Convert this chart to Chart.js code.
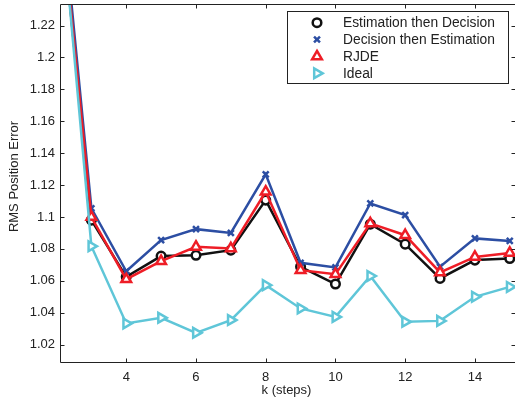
<!DOCTYPE html>
<html>
<head>
<meta charset="utf-8">
<script src="https://cdn.jsdelivr.net/npm/chart.js@4/dist/chart.umd.min.js"></script>
<style>
  html, body { margin: 0; padding: 0; background: #fff; }
  #wrap { width: 515px; height: 406px; position: relative; }
</style>
</head>
<body>
<div id="wrap"><canvas id="c" width="515" height="406"></canvas></div>
<script>
// ---- data ----
const steps = [2, 3, 4, 5, 6, 7, 8, 9, 10, 11, 12, 13, 14, 15];
const estimationThenDecision = [1.318, 1.098, 1.0625, 1.0755, 1.076, 1.0792, 1.1106, 1.0688, 1.058, 1.0955, 1.083, 1.0615, 1.073, 1.074];
const decisionThenEstimation = [1.330, 1.1055, 1.066, 1.0855, 1.0924, 1.090, 1.1267, 1.0713, 1.0684, 1.1085, 1.1012, 1.0688, 1.0866, 1.085];
const rjde = [1.321, 1.100, 1.061, 1.0723, 1.0813, 1.0803, 1.1158, 1.0667, 1.0642, 1.096, 1.0886, 1.0653, 1.075, 1.0775];
const ideal = [1.325, 1.0817, 1.0333, 1.0368, 1.0274, 1.0354, 1.0573, 1.0427, 1.0374, 1.063, 1.0343, 1.0349, 1.050, 1.0562];
const xTicks = [4, 6, 8, 10, 12, 14];
const yTicks = [1.02, 1.04, 1.06, 1.08, 1.1, 1.12, 1.14, 1.16, 1.18, 1.2, 1.22];
const seriesNames = ['Estimation then Decision', 'Decision then Estimation', 'RJDE', 'Ideal'];
const xTitle = 'k (steps)';
const yTitle = 'RMS Position Error';

const FONT = '"Liberation Sans", Arial, Helvetica, sans-serif';
const TXT = '#222';

const toPts = arr => steps.map((k, i) => ({ x: k, y: arr[i] }));

const styles = [
  { color: '#111111', pointStyle: 'circle', radius: 4.3, rot: 0, order: 3 },
  { color: '#2c4ea3', pointStyle: 'crossRot', radius: 4.2, rot: 0, order: 2 },
  { color: '#ee1d26', pointStyle: 'triangle', radius: 5.6, rot: 0, order: 1 },
  { color: '#5fc6d8', pointStyle: 'triangle', radius: 5.6, rot: 90, order: 0 }
];
const seriesData = [estimationThenDecision, decisionThenEstimation, rjde, ideal];

const datasets = seriesData.map((arr, i) => ({
  label: seriesNames[i],
  data: toPts(arr),
  borderColor: styles[i].color,
  backgroundColor: '#ffffff',
  borderWidth: 2.5,
  pointStyle: styles[i].pointStyle,
  pointRadius: styles[i].radius,
  pointRotation: styles[i].rot,
  pointBorderColor: styles[i].color,
  pointBackgroundColor: '#ffffff',
  pointBorderWidth: 2.5,
  pointHoverRadius: styles[i].radius,
  tension: 0,
  order: styles[i].order,
  clip: { left: 0, top: 0, right: false, bottom: 0 }
}));

const framePlugin = {
  id: 'frame',
  afterDatasetsDraw(chart) {
    const { ctx, chartArea: a, scales } = chart;
    ctx.save();
    ctx.strokeStyle = '#222';
    ctx.lineWidth = 1;
    ctx.beginPath();
    // left, bottom and top axis lines (right one lies just outside the picture)
    ctx.moveTo(a.left + 0.5, a.top + 0.5);
    ctx.lineTo(a.left + 0.5, a.bottom - 0.5);
    ctx.lineTo(a.right + 2, a.bottom - 0.5);
    ctx.moveTo(a.left + 0.5, a.top + 0.5);
    ctx.lineTo(a.right + 2, a.top + 0.5);
    ctx.stroke();
    const tl = 4.5;
    ctx.beginPath();
    xTicks.forEach(v => {
      const px = Math.round(scales.x.getPixelForValue(v)) + 0.5;
      ctx.moveTo(px, a.bottom); ctx.lineTo(px, a.bottom - tl);
      ctx.moveTo(px, a.top); ctx.lineTo(px, a.top + tl);
    });
    yTicks.forEach(v => {
      const py = Math.round(scales.y.getPixelForValue(v)) + 0.5;
      ctx.moveTo(a.left, py); ctx.lineTo(a.left + tl, py);
      ctx.moveTo(a.right + 1, py); ctx.lineTo(a.right + 1 - tl, py);
    });
    ctx.stroke();

    // axis titles
    ctx.fillStyle = TXT;
    ctx.font = '13px ' + FONT;
    ctx.textAlign = 'center';
    ctx.textBaseline = 'middle';
    ctx.fillText(xTitle, 286.5, 390);
    ctx.save();
    ctx.translate(14.5, 176.5);
    ctx.rotate(-Math.PI / 2);
    ctx.fillText(yTitle, 0, 0);
    ctx.restore();

    // legend box
    const bx = 287.5, by = 11.5, bw = 221, bh = 72;
    ctx.fillStyle = '#fff';
    ctx.fillRect(bx, by, bw, bh);
    ctx.strokeStyle = '#222';
    ctx.lineWidth = 1;
    ctx.strokeRect(bx, by, bw, bh);
    const rowsY = [22.7, 39.5, 56.5, 73.3];
    ctx.font = '13.8px ' + FONT;
    ctx.textBaseline = 'middle';
    ctx.textAlign = 'left';
    seriesNames.forEach((name, i) => {
      const st = styles[i];
      const opts = {
        pointStyle: st.pointStyle, radius: st.radius, rotation: st.rot,
        borderWidth: 2.5
      };
      ctx.strokeStyle = st.color;
      ctx.fillStyle = '#ffffff';
      ctx.lineWidth = 2.5;
      Chart.helpers.drawPoint(ctx, opts, 317, rowsY[i]);
      ctx.fillStyle = TXT;
      ctx.fillText(name, 343, rowsY[i] + 0.5);
    });
    ctx.restore();
  }
};

new Chart(document.getElementById('c'), {
  type: 'line',
  data: { datasets },
  options: {
    responsive: false,
    animation: false,
    events: [],
    layout: { autoPadding: false, padding: { top: 4, right: 0, left: 0, bottom: 0 } },
    plugins: { legend: { display: false }, tooltip: { enabled: false } },
    scales: {
      x: {
        type: 'linear',
        min: 2.1,
        max: 15.15,
        afterBuildTicks: s => { s.ticks = xTicks.map(v => ({ value: v })); },
        afterFit: s => { s.height = 43; s.paddingLeft = 0; s.paddingRight = 0; },
        grid: { display: false, drawTicks: false },
        border: { display: false },
        ticks: {
          padding: 7,
          color: TXT,
          font: { family: FONT, size: 13 },
          maxRotation: 0,
          callback: v => String(v)
        },
        title: { display: false, text: xTitle }
      },
      y: {
        type: 'linear',
        min: 1.0085,
        max: 1.2335,
        afterBuildTicks: s => { s.ticks = yTicks.map(v => ({ value: v })); },
        afterFit: s => { s.width = 60; s.paddingTop = 0; s.paddingBottom = 0; },
        grid: { display: false, drawTicks: false },
        border: { display: false },
        ticks: {
          padding: 5,
          color: TXT,
          font: { family: FONT, size: 13 },
          callback: v => String(+Number(v).toFixed(2))
        },
        title: { display: false, text: yTitle }
      }
    }
  },
  plugins: [framePlugin]
});
</script>
</body>
</html>
